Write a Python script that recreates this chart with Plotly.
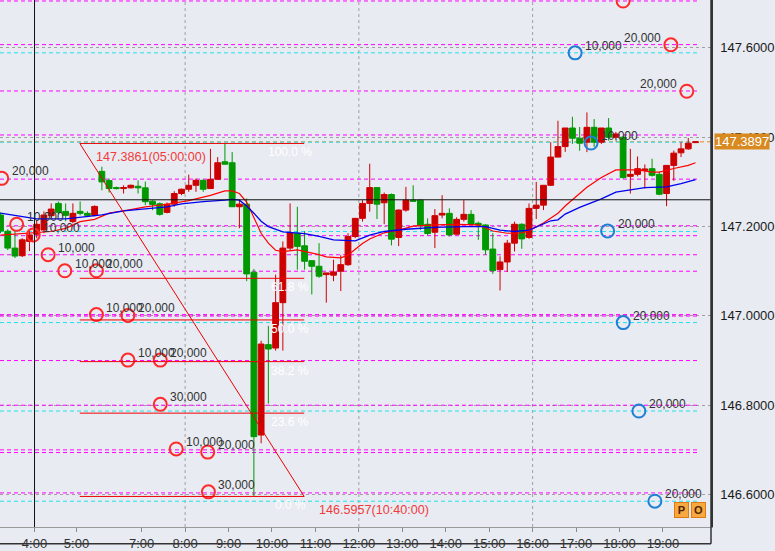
import plotly.graph_objects as go

# USD/JPY 10 minute candles (red = up, green = down)
opens = [147.2258, 147.1896, 147.1518, 147.1347, 147.1667, 147.1829, 147.1924, 147.2244, 147.2518, 147.2340,
         147.2111, 147.2340, 147.2296, 147.2251, 147.3236, 147.3029, 147.2873, 147.2851, 147.2867, 147.2902,
         147.2867, 147.2569, 147.2511, 147.2318, 147.2502, 147.2740, 147.2836, 147.2924, 147.3036, 147.2851,
         147.3058, 147.3451, 147.3429, 147.2444, 147.2502, 147.0978, 146.7333, 146.9356, 146.9280, 147.0296,
         147.1518, 147.1851, 147.1569, 147.1236, 147.1111, 147.0924, 147.0911, 147.1000, 147.1147, 147.1778,
         147.2184, 147.2518, 147.2873, 147.2533, 147.2718, 147.1756, 147.2369, 147.2591, 147.2591, 147.2051,
         147.1873, 147.2258, 147.2296, 147.1829, 147.2162, 147.2273, 147.2073, 147.2036, 147.1496, 147.1036,
         147.1207, 147.1629, 147.2051, 147.1756, 147.2407, 147.2480, 147.2924, 147.3556, 147.3791, 147.4207,
         147.3978, 147.3889, 147.4222, 147.3889, 147.4207, 147.4000, 147.4000, 147.3124, 147.3169, 147.3258,
         147.3296, 147.3169, 147.2740, 147.3369, 147.3651, 147.3740, 147.3880]
highs = [147.2318, 147.1940, 147.1896, 147.1740, 147.1896, 147.2140, 147.2340, 147.2518, 147.2562, 147.2518,
         147.2518, 147.2562, 147.2340, 147.2473, 147.3340, 147.3073, 147.2896, 147.2924, 147.2940, 147.3036,
         147.3007, 147.2591, 147.2540, 147.2540, 147.2791, 147.2851, 147.3162, 147.3073, 147.3051, 147.3740,
         147.3556, 147.3861, 147.3667, 147.2591, 147.2629, 147.1051, 146.9444, 146.9778, 147.0924, 147.1667,
         147.2518, 147.2444, 147.1896, 147.1251, 147.1629, 147.0962, 147.1258, 147.1356, 147.1851, 147.2184,
         147.2591, 147.3407, 147.2873, 147.2762, 147.2740, 147.2384, 147.2889, 147.2924, 147.2607, 147.2184,
         147.2391, 147.2702, 147.2407, 147.2207, 147.2591, 147.2369, 147.2111, 147.2051, 147.1851, 147.1333,
         147.1702, 147.2111, 147.2073, 147.2518, 147.3000, 147.2924, 147.3889, 147.4369, 147.4207, 147.4458,
         147.4229, 147.4556, 147.4407, 147.4207, 147.4429, 147.4118, 147.4029, 147.3740, 147.3569, 147.3391,
         147.3518, 147.3229, 147.3369, 147.3702, 147.3889, 147.3984, 147.3905]
lows = [147.1851, 147.1473, 147.1296, 147.1318, 147.1451, 147.1740, 147.1851, 147.2184, 147.2273, 147.2118,
        147.2073, 147.2251, 147.2229, 147.2229, 147.2813, 147.2762, 147.2829, 147.2740, 147.2851, 147.2740,
        147.2480, 147.2369, 147.2244, 147.2296, 147.2444, 147.2702, 147.2778, 147.2778, 147.2778, 147.2840,
        147.3051, 147.3384, 147.2440, 147.1962, 147.0778, 146.5957, 146.7147, 146.8036, 146.9222, 146.9222,
        147.1473, 147.1036, 147.1036, 147.0480, 147.0851, 147.0296, 147.0778, 147.0556, 147.1118, 147.1740,
        147.2111, 147.2333, 147.2169, 147.2051, 147.1578, 147.1562, 147.2333, 147.2556, 147.1924, 147.1807,
        147.1518, 147.2184, 147.1778, 147.1818, 147.2111, 147.2036, 147.1702, 147.1369, 147.0940, 147.0569,
        147.0984, 147.1444, 147.1502, 147.1724, 147.2169, 147.2369, 147.2911, 147.3551, 147.3673, 147.3851,
        147.3696, 147.3667, 147.3784, 147.3851, 147.3924, 147.3962, 147.3073, 147.2740, 147.3124, 147.2851,
        147.3118, 147.2702, 147.2458, 147.3022, 147.3556, 147.3718, 147.3870]
closes = [147.1902, 147.1518, 147.1340, 147.1702, 147.1813, 147.2051, 147.2258, 147.2391, 147.2318, 147.2251,
          147.2296, 147.2296, 147.2251, 147.2451, 147.3000, 147.2851, 147.2851, 147.2873, 147.2924, 147.2867,
          147.2556, 147.2496, 147.2273, 147.2502, 147.2740, 147.2836, 147.2924, 147.3036, 147.2836, 147.3058,
          147.3429, 147.3396, 147.2444, 147.2502, 147.0940, 146.7296, 146.9369, 146.9258, 147.0296, 147.1518,
          147.1867, 147.1556, 147.1222, 147.1111, 147.0889, 147.0962, 147.0984, 147.1147, 147.1778, 147.2184,
          147.2518, 147.2873, 147.2502, 147.2718, 147.1718, 147.2369, 147.2591, 147.2569, 147.2022, 147.1844,
          147.2244, 147.2296, 147.1813, 147.2162, 147.2273, 147.2051, 147.2036, 147.1480, 147.1013, 147.1207,
          147.1629, 147.2051, 147.1724, 147.2407, 147.2480, 147.2924, 147.3556, 147.3791, 147.4207, 147.3978,
          147.3867, 147.4222, 147.3889, 147.4207, 147.4000, 147.4073, 147.3096, 147.3169, 147.3296, 147.3289,
          147.3147, 147.2724, 147.3369, 147.3644, 147.3740, 147.3867, 147.3897]
bar_idx = list(range(len(opens)))

time_tick_pos = [4.7, 10.5, 19.5, 25.5, 31.5, 37.5, 43.5, 49.5, 55.5, 61.5, 67.5, 73.5, 79.5, 85.5, 91.5]
time_tick_text = ["4:00", "5:00", "7:00", "8:00", "9:00", "10:00", "11:00", "12:00",
                  "13:00", "14:00", "15:00", "16:00", "17:00", "18:00", "19:00"]
grid_hours = ["8:00", "12:00", "16:00"]

price_ticks = [146.6, 146.8, 147.0, 147.2, 147.4, 147.6]

# moving averages (short = red, long = blue)
ma_short_x = [0, 3, 7, 9, 11, 13, 15, 18, 20, 23, 26, 29, 31, 32, 33, 34, 35, 36, 37, 38, 39, 41, 44,
              45, 47, 48, 49, 50, 51, 53, 55, 57, 60, 63, 66, 68, 70, 72, 73, 75, 77, 78, 81, 83, 85,
              88, 90, 91, 93, 95, 96]
ma_short_y = [147.181, 147.184, 147.189, 147.196, 147.211, 147.216, 147.230, 147.238, 147.244, 147.250,
              147.258, 147.270, 147.280, 147.280, 147.274, 147.255, 147.218, 147.185, 147.163, 147.147,
              147.144, 147.148, 147.137, 147.132, 147.130, 147.136, 147.149, 147.162, 147.172, 147.186,
              147.192, 147.201, 147.204, 147.205, 147.204, 147.190, 147.185, 147.186, 147.191, 147.208,
              147.230, 147.246, 147.288, 147.310, 147.327, 147.327, 147.322, 147.322, 147.330, 147.337,
              147.343]
ma_long_x = [0, 3, 5, 9, 12, 14, 17, 20, 23, 25, 28, 31, 32, 33, 34, 35, 36, 37, 39, 42, 44, 46, 49,
             51, 53, 56, 60, 64, 67, 69, 71, 73, 76, 77, 78, 80, 83, 85, 89, 92, 94, 96]
ma_long_y = [147.230, 147.222, 147.217, 147.217, 147.222, 147.226, 147.235, 147.239, 147.244, 147.251,
             147.256, 147.259, 147.261, 147.259, 147.246, 147.230, 147.212, 147.200, 147.188, 147.184,
             147.178, 147.170, 147.168, 147.181, 147.189, 147.194, 147.198, 147.200, 147.200, 147.192,
             147.189, 147.192, 147.213, 147.215, 147.228, 147.243, 147.262, 147.277, 147.287, 147.289,
             147.296, 147.305]

# pending orders
sell_x = [86.0, 92.6, 94.8, 0.17, 2.23, 4.52, 6.58, 8.88, 13.25, 13.25, 17.6, 17.6, 22.07, 22.07, 24.27, 28.62, 28.72]
sell_price = [147.705, 147.607, 147.503, 147.308, 147.205, 147.181, 147.137, 147.101, 147.101,
              147.003, 147.001, 146.901, 146.901, 146.802, 146.702, 146.695, 146.606]
sell_qty = ["", "20,000", "20,000", "20,000", "10,000", "10,000", "10,000", "10,000", "20,000",
            "10,000", "20,000", "10,000", "20,000", "30,000", "10,000", "20,000", "30,000"]
buy_x = [79.37, 81.57, 83.86, 86.02, 88.18, 90.39]
buy_price = [147.589, 147.387, 147.190, 146.985, 146.787, 146.585]
buy_qty = ["10,000", "10,000", "20,000", "20,000", "20,000", "20,000"]

magenta_levels = [147.7051, 147.6074, 147.5036, 147.4051, 147.3062, 147.2018, 147.1796, 147.1369,
                  147.1000, 147.0029, 146.9996, 146.9000, 146.8000, 146.7000, 146.6940, 146.6036]
cyan_levels = [147.589, 147.389, 147.189, 146.985, 146.787, 146.585]
last_price = closes[-1]

fib_high, fib_high_time = 147.3861, "05:00:00"
fib_low, fib_low_time = 146.5957, "10:40:00"
fib_ratios = [1.0, 0.618, 0.5, 0.382, 0.236, 0.0]
fib_x0, fib_x1 = 10.95, 41.95
fib_label_x = 40.0

cross_x, cross_y = 4.7, 147.26

FONT = "Liberation Sans, Arial, sans-serif"
BG = "#e8ebf2"
RED = "#cc0000"
GREEN = "#009900"
X_RANGE = [-0.07, 98.14]
Y_RANGE = [146.5273, 147.7073]
LINE_END = 96.6

fig = go.Figure()

fig.add_trace(go.Scatter(x=ma_short_x, y=ma_short_y, mode="lines",
                         line=dict(color="#ff0000", width=1.2), hoverinfo="skip"))
fig.add_trace(go.Scatter(x=ma_long_x, y=ma_long_y, mode="lines",
                         line=dict(color="#0000ee", width=1.3), hoverinfo="skip"))

fig.add_trace(go.Candlestick(
    x=bar_idx, open=opens, high=highs, low=lows, close=closes,
    increasing=dict(line=dict(color=RED, width=1), fillcolor=RED),
    decreasing=dict(line=dict(color=GREEN, width=1), fillcolor=GREEN),
    whiskerwidth=0))

fig.add_trace(go.Scatter(x=sell_x, y=sell_price, mode="markers",
                         marker=dict(symbol="circle-open", size=13, color="#ff2a2a",
                                     line=dict(width=2)), hoverinfo="skip"))
fig.add_trace(go.Scatter(x=buy_x, y=buy_price, mode="markers",
                         marker=dict(symbol="circle-open", size=13, color="#1f7fd4",
                                     line=dict(width=2)), hoverinfo="skip"))

shapes = []
for lv in magenta_levels:
    shapes.append(dict(type="line", xref="x", yref="y", x0=X_RANGE[0], x1=LINE_END, y0=lv, y1=lv,
                       line=dict(color="#ff00ff", width=1, dash="4px,3px"), layer="between"))
for lv in cyan_levels:
    shapes.append(dict(type="line", xref="x", yref="y", x0=X_RANGE[0], x1=LINE_END, y0=lv, y1=lv,
                       line=dict(color="#22e0f0", width=1, dash="4px,3px"), layer="between"))
shapes.append(dict(type="line", xref="paper", yref="y", x0=0, x1=1, y0=last_price, y1=last_price,
                   line=dict(color="#f08a20", width=1, dash="4px,3px"), layer="between"))
for h in grid_hours:
    xv = time_tick_pos[time_tick_text.index(h)]
    shapes.append(dict(type="line", xref="x", yref="paper", x0=xv, x1=xv, y0=0, y1=1,
                       line=dict(color="#a0a0a0", width=1, dash="3px,3px"), layer="between"))

# crosshair
shapes.append(dict(type="line", xref="paper", yref="y", x0=0, x1=1, y0=cross_y, y1=cross_y,
                   line=dict(color="#111111", width=1)))
shapes.append(dict(type="line", xref="x", yref="paper", x0=cross_x, x1=cross_x, y0=0, y1=1,
                   line=dict(color="#111111", width=1)))

# fibonacci retracement
for r in fib_ratios:
    lv = fib_low + r * (fib_high - fib_low)
    shapes.append(dict(type="line", xref="x", yref="y", x0=fib_x0, x1=fib_x1, y0=lv, y1=lv,
                       line=dict(color="#ee0000", width=1)))
shapes.append(dict(type="line", xref="x", yref="y", x0=fib_x0, x1=fib_x1, y0=fib_high, y1=fib_low,
                   line=dict(color="#ee0000", width=1)))

# frame round the time axis
shapes.append(dict(type="line", xref="paper", yref="paper", x0=0, x1=1, y0=-0.032, y1=-0.032,
                   line=dict(color="#333333", width=1.5)))
shapes.append(dict(type="line", xref="paper", yref="paper", x0=1, x1=1, y0=-0.032, y1=1,
                   line=dict(color="#333333", width=1.5)))

ann = []
for xv, yv, q in zip(sell_x + buy_x, sell_price + buy_price, sell_qty + buy_qty):
    if not q:
        continue
    left = xv > 91
    ann.append(dict(x=xv, y=yv, xref="x", yref="y", text=q, showarrow=False,
                    xanchor="right" if left else "left", xshift=-8 if left else 8, yshift=7,
                    font=dict(family=FONT, size=12, color="#333333")))

for r in fib_ratios:
    lv = fib_low + r * (fib_high - fib_low)
    ann.append(dict(x=fib_label_x, y=lv, xref="x", yref="y", text="%.1f %%" % (r * 100),
                    showarrow=False, xanchor="center", yanchor="middle", yshift=-9,
                    font=dict(family=FONT, size=12, color="#ffffff")))
ann.append(dict(x=fib_x0 + 1.95, y=fib_high, xref="x", yref="y",
                text="%.4f(%s)" % (fib_high, fib_high_time), showarrow=False,
                xanchor="left", yanchor="middle", yshift=-14,
                font=dict(family=FONT, size=12.6, color="#f23a3a")))
ann.append(dict(x=fib_x1 + 1.75, y=fib_low, xref="x", yref="y",
                text="%.4f(%s)" % (fib_low, fib_low_time), showarrow=False,
                xanchor="left", yanchor="middle", yshift=-14,
                font=dict(family=FONT, size=12.6, color="#f23a3a")))

ann.append(dict(x=1, y=last_price, xref="paper", yref="y", text="%.4f" % last_price,
                showarrow=False, xanchor="left", yanchor="middle", xshift=3,
                bgcolor="#d8891f", borderpad=0,
                font=dict(family=FONT, size=13, color="#ffffff")))

for i, letter in enumerate(["P", "O"]):
    ann.append(dict(x=0.959 + i * 0.0235, y=0.032, xref="paper", yref="paper",
                    xanchor="center", yanchor="middle",
                    text="<b>%s</b>" % letter, showarrow=False, width=13, height=14,
                    bgcolor="#f7a83e", bordercolor="#e07a10", borderwidth=1, borderpad=0,
                    font=dict(family=FONT, size=11, color="#4a2600")))

fig.update_layout(
    width=775, height=551,
    margin=dict(l=0, r=62, t=0, b=20),
    paper_bgcolor=BG, plot_bgcolor=BG,
    showlegend=False, boxgap=0.2, boxgroupgap=0, hovermode=False,
    shapes=shapes, annotations=ann,
    xaxis=dict(range=X_RANGE, tickvals=time_tick_pos, ticktext=time_tick_text,
               rangeslider=dict(visible=False), showgrid=False, zeroline=False,
               ticks="outside", ticklen=4, tickcolor="#8a8a8a",
               showline=True, linecolor="#9a9a9a", linewidth=1,
               tickfont=dict(family=FONT, size=13, color="#333333")),
    yaxis=dict(range=Y_RANGE, side="right", tickvals=price_ticks,
               ticktext=["%.4f" % v for v in price_ticks],
               showgrid=True, gridcolor="#a0a0a0", gridwidth=1, griddash="3px,3px",
               zeroline=False, ticks="", ticklabelstandoff=5,
               showline=True, linecolor="#333333", linewidth=1.5,
               tickfont=dict(family=FONT, size=13, color="#1a1a1a")),
)

# page body has a default 8px margin; drop it so the chart fills the window
fig.write_html("out.html", config={"displayModeBar": False},
               post_script="document.body.style.margin='0';")
